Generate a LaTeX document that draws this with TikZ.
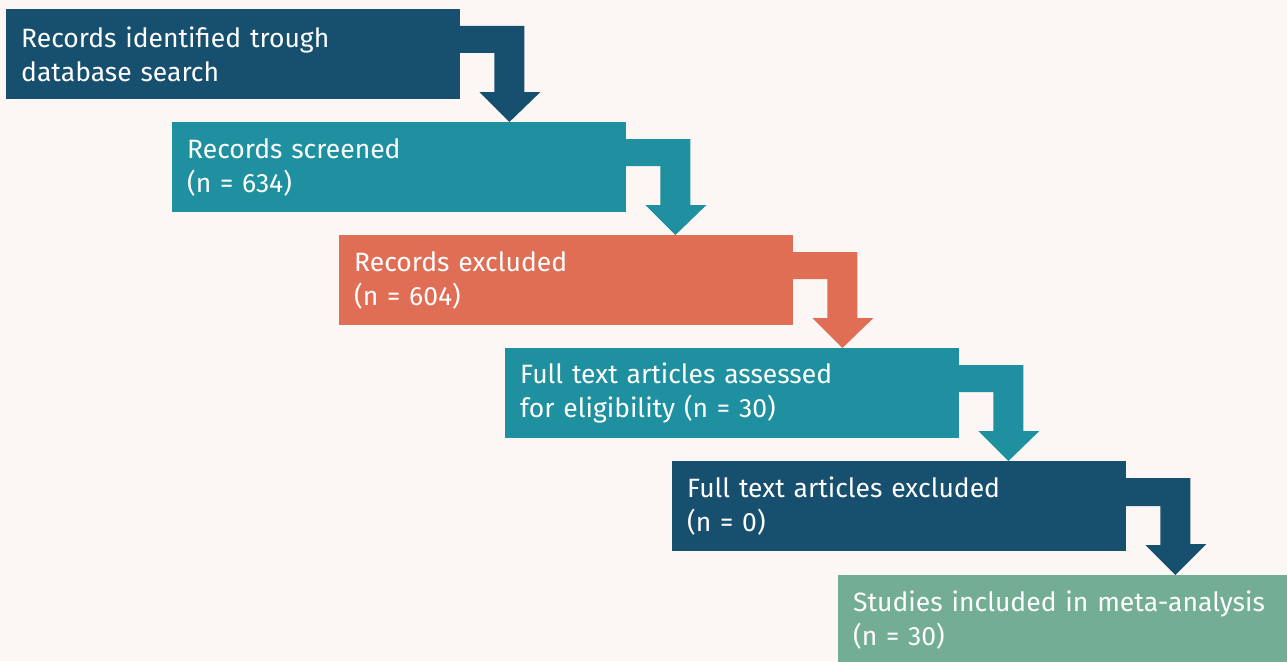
\documentclass[tikz,border=0pt]{standalone}
\usepackage{fontspec}
\setmainfont{Fira Sans}
\usetikzlibrary{calc}

\definecolor{dkblue}{HTML}{174F6E}
\definecolor{teal}{HTML}{1F90A0}
\definecolor{coral}{HTML}{E06E55}
\definecolor{sage}{HTML}{72AD94}
\definecolor{paper}{HTML}{FCF7F4}

\tikzset{
  stepbox/.style={rectangle, anchor=north west, minimum width=454pt, minimum height=90pt,
    text width=424pt, inner xsep=15pt, inner ysep=0pt, align=left, text=white,
    font=\fontsize{26.5}{34}\selectfont},
}

\begin{document}
\begin{tikzpicture}[x=1pt,y=-1pt]

        \fill[paper] (0,0) rectangle (1287,661);
        \useasboundingbox (0,0) rectangle (1287,661);
        \clip (0,0) rectangle (1287,661);

        % boxes, each one step down and to the right
        \node[stepbox, fill=dkblue] (b1) at (6,9)     {Records identified trough\\database search};
        \node[stepbox, fill=teal]   (b2) at (172,122) {Records screened\\(n = 634)};
        \node[stepbox, fill=coral]  (b3) at (339,235) {Records excluded\\(n = 604)};
        \node[stepbox, fill=teal]   (b4) at (505,348) {Full text articles assessed\\for eligibility (n = 30)};
        \node[stepbox, fill=dkblue] (b5) at (672,461) {Full text articles excluded\\(n = 0)};
        \node[stepbox, fill=sage]   (b6) at (838,575) {Studies included in meta-analysis\\(n = 30)};

        % bent arrows
        \foreach \a/\b/\c in {b1/b2/dkblue, b2/b3/teal, b3/b4/coral, b4/b5/teal, b5/b6/dkblue} {
          \fill[\c] ([shift={(-1,17)}]\a.north east) -- ++(65,0) -- ++(0,66) -- ++(16,0)
            -- ([xshift=49pt]\a.north east |- \b.north) -- ++(-30,-30) -- ++(15,0)
            -- ++(0,-39) -- ++(-35,0) -- cycle;
        }

\end{tikzpicture}
\end{document}
